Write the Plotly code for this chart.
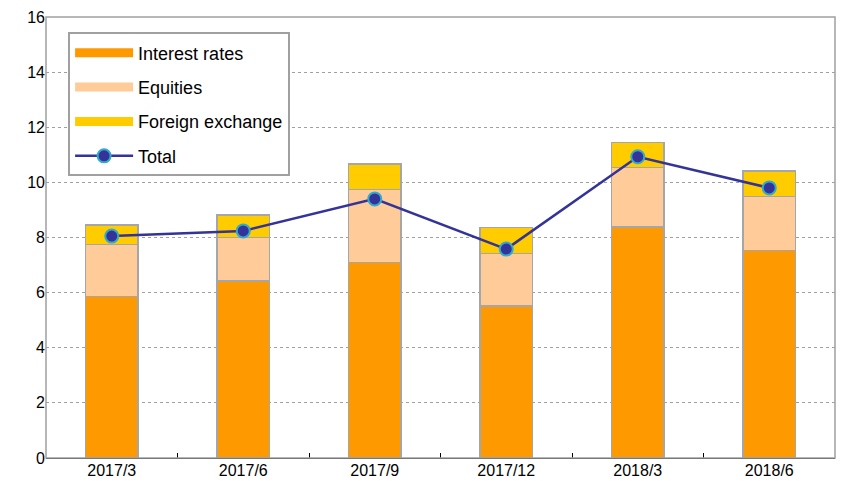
import plotly.graph_objects as go

categories = ["2017/3", "2017/6", "2017/9", "2017/12", "2018/3", "2018/6"]
interest_rates = [5.87, 6.42, 7.09, 5.52, 8.38, 7.52]
equities = [1.88, 1.58, 2.66, 1.91, 2.17, 1.96]
foreign_exchange = [0.70, 0.82, 0.92, 0.93, 0.90, 0.93]
total = [8.05, 8.24, 9.40, 7.58, 10.93, 9.80]
y_ticks = [0, 2, 4, 6, 8, 10, 12, 14, 16]

bar_line = dict(color="#A6A6A6", width=1.3)
series = [("Interest rates", interest_rates, "#FF9900"),
          ("Equities", equities, "#FFCC99"),
          ("Foreign exchange", foreign_exchange, "#FFCC00")]

fig = go.Figure()
for i, (name, vals, col) in enumerate(series):
    fig.add_trace(go.Bar(x=categories, y=vals, name=name, showlegend=False,
                         marker=dict(color=col, line=bar_line)))
    # legend-only proxy giving a wide bar-like legend symbol
    fig.add_trace(go.Scatter(x=[None], y=[None], name=name, mode="lines",
                             line=dict(color=col, width=9), legendgroup=f"g{i}"))
fig.add_trace(go.Scatter(x=categories, y=total, name="Total", mode="lines+markers",
                         line=dict(color="#333399", width=2.5),
                         marker=dict(size=13, color="#333399",
                                     line=dict(color="#33AACC", width=2)),
                         legendgroup="g9"))

fig.update_layout(
    barmode="stack",
    bargap=0.6,
    width=856, height=481,
    margin=dict(l=46, r=21, t=17, b=23),
    plot_bgcolor="white", paper_bgcolor="white",
    font=dict(family="Liberation Sans, Arial, sans-serif", size=16, color="black"),
    showlegend=True,
    legend=dict(x=0.028, y=0.965, xanchor="left", yanchor="top",
                bgcolor="white", bordercolor="#A0A0A0", borderwidth=2,
                traceorder="grouped", tracegroupgap=8,
                font=dict(size=18), itemwidth=58),
    xaxis=dict(showgrid=False, showline=True, linecolor="black", linewidth=1,
               ticks="inside", tickson="boundaries", ticklen=5, tickcolor="black",
               tickfont=dict(size=16), ticklabelstandoff=-2, automargin=False),
    yaxis=dict(range=[0, 16], tickvals=y_ticks, showgrid=True,
               gridcolor="#A0A0A0", griddash="dot", gridwidth=1,
               showline=False, ticks="", zeroline=False,
               tickfont=dict(size=16), automargin=False),
    shapes=[dict(type="rect", xref="paper", yref="paper", x0=0, x1=1, y0=0, y1=1,
                 line=dict(color="#A0A0A0", width=1.5), layer="above")],
)
fig.write_html("out.html", config={"displayModeBar": False},
               post_script="document.body.style.margin='0';document.body.style.overflow='hidden';")
